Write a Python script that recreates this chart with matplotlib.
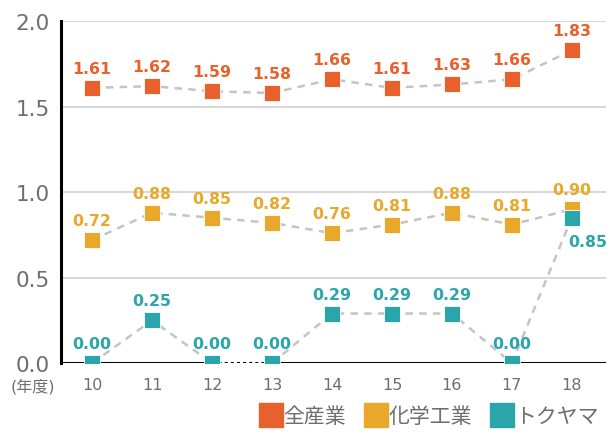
import numpy as np
import matplotlib.pyplot as plt

plt.rcParams['font.family'] = ['DejaVu Sans', 'Noto Sans CJK JP']

years = ['10', '11', '12', '13', '14', '15', '16', '17', '18']
zensangyo = [1.61, 1.62, 1.59, 1.58, 1.66, 1.61, 1.63, 1.66, 1.83]
kagaku = [0.72, 0.88, 0.85, 0.82, 0.76, 0.81, 0.88, 0.81, 0.90]
tokuyama = [0.00, 0.25, 0.00, 0.00, 0.29, 0.29, 0.29, 0.00, 0.85]
series_names = ['全産業', '化学工業', 'トクヤマ']

c_orange = '#E8612C'
c_yellow = '#E9A82A'
c_teal = '#2AA5AB'
c_line = '#C4C4C4'

fig = plt.figure(figsize=(6.11, 4.35), dpi=100)
ax = fig.add_axes([0.0998, 0.163, 0.892, 0.786])
x = np.arange(len(years))

for yv in [0.5, 1.0, 1.5, 2.0]:
    ax.axhline(yv, color='#CFCFCF', lw=1.2, zorder=0)

def linia(xs, ys, **kw):
    ax.plot(xs, ys, color=c_line, lw=1.8, ls=(0, (3, 2.5)), zorder=2, **kw)

linia(x, zensangyo)
linia(x, kagaku)
linia(x[:3], tokuyama[:3])
linia(x[3:], tokuyama[3:])

ax.axhline(0, color='black', lw=2.2, zorder=3)
# segmento punteado 12-13
ax.plot(x[2:4], tokuyama[2:4], color='white', lw=2.6, zorder=3.5)
ax.plot(x[2:4], tokuyama[2:4], color='black', lw=2.2, ls=(0, (1, 1)), zorder=3.6)

mk = dict(marker='s', ms=12, ls='none', mec='white', mew=0.6, zorder=5)
ax.plot(x, zensangyo, color=c_orange, **mk)
ax.plot(x, kagaku, color=c_yellow, **mk)
ax.plot(x, tokuyama, color=c_teal, **mk)

def etiquetas(vals, color, especiales={}):
    for i, v in enumerate(vals):
        off = especiales.get(i, (0, 14))
        ax.annotate(f'{v:.2f}', (x[i], v), xytext=off, textcoords='offset points',
                    ha='center', va='center', color=color, fontsize=11.3,
                    fontweight='bold', zorder=6)

etiquetas(zensangyo, c_orange)
etiquetas(kagaku, c_yellow)
etiquetas(tokuyama, c_teal, {8: (11.5, -17)})

ax.set_xlim(-0.52, 8.57)
ax.set_ylim(0, 2.0)
ax.set_yticks([0.0, 0.5, 1.0, 1.5, 2.0])
ax.set_yticklabels(['0.0', '0.5', '1.0', '1.5', '2.0'])
ax.set_xticks(x)
ax.set_xticklabels(years)
ax.tick_params(axis='y', length=0, labelsize=15.5, labelcolor='#6E6E6E', pad=8)
ax.tick_params(axis='x', length=0, labelsize=11.5, labelcolor='#6E6E6E', pad=10)

for s in ['top', 'right', 'bottom']:
    ax.spines[s].set_visible(False)
ax.spines['left'].set_linewidth(2.2)
ax.spines['left'].set_color('black')

fig.text(33 / 611, 1 - 387 / 435, '(年度)', ha='center', va='center',
         fontsize=11.5, color='#6E6E6E')

handles = [plt.Line2D([], [], marker='s', ms=17, ls='none', color=c)
           for c in [c_orange, c_yellow, c_teal]]
fig.legend(handles, series_names, loc='lower right', bbox_to_anchor=(1.01, -0.025),
           ncol=3, frameon=False, fontsize=15, labelcolor='#6E6E6E',
           handletextpad=0.05, columnspacing=0.9, handlelength=1.1)

fig.savefig('out.png', dpi=100)
